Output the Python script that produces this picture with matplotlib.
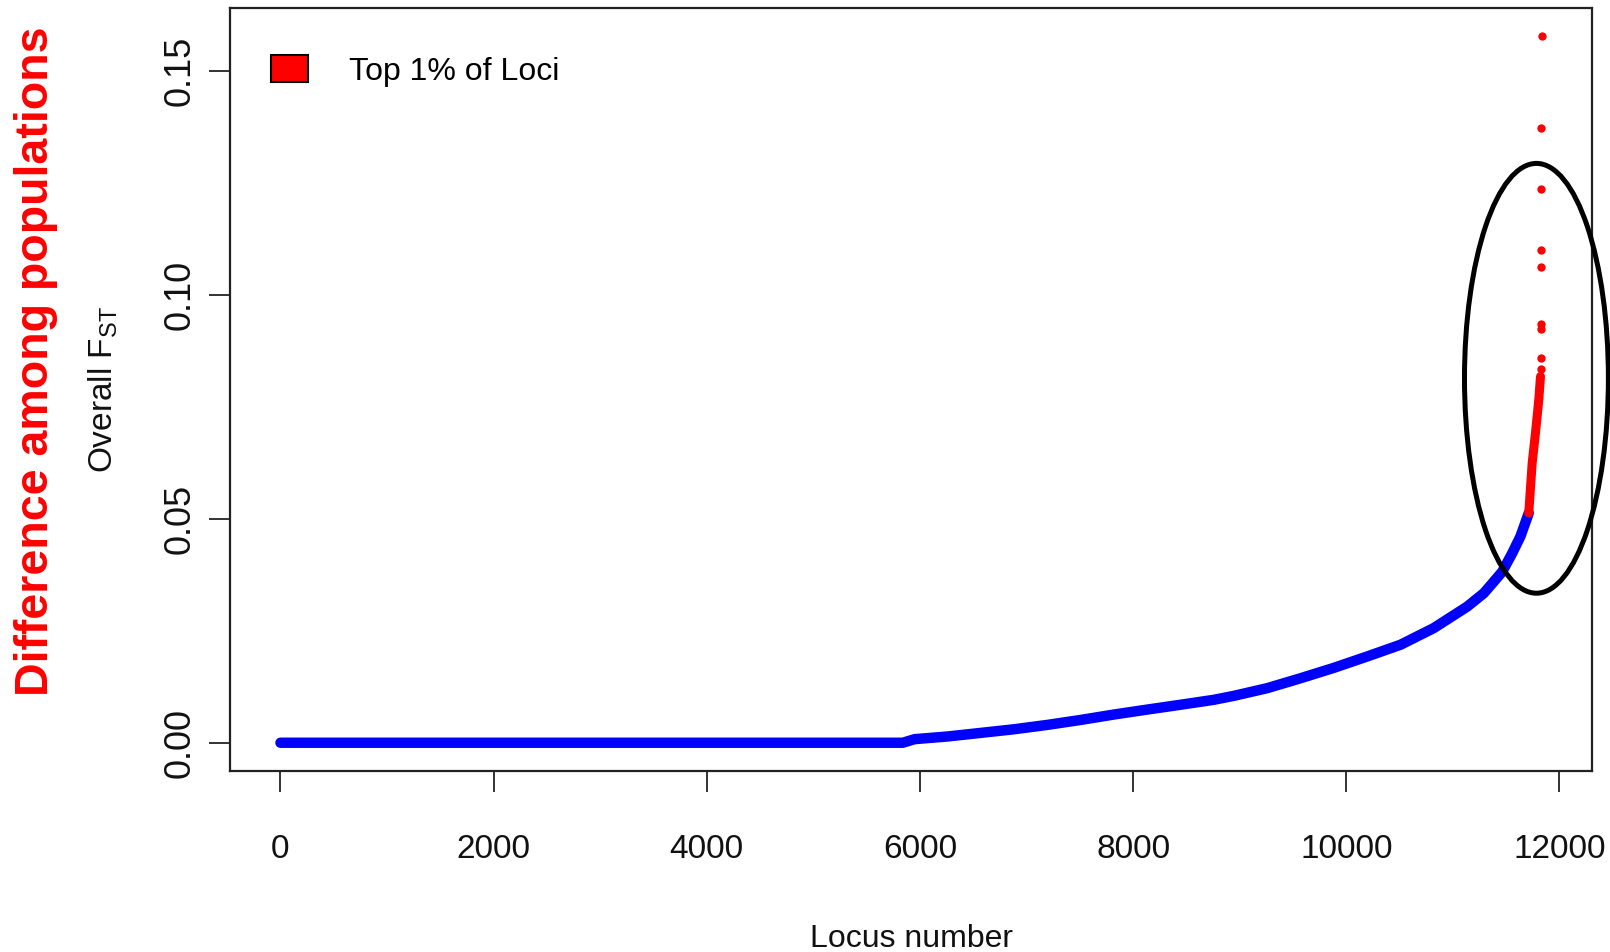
import matplotlib
matplotlib.use("Agg")
import matplotlib.pyplot as plt
from matplotlib.patches import Ellipse, Patch

# Sorted overall Fst per locus (locus index, value)
blue_locus = [1, 5840, 5950, 6260, 6570, 6880, 7200, 7510, 7820, 8130, 8450,
              8760, 8950, 9260, 9570, 9880, 10200, 10510, 10820, 11134, 11290,
              11352, 11463, 11556, 11634, 11712]
blue_fst = [0.0, 0.0, 0.0008, 0.0014, 0.0022, 0.0030, 0.0040, 0.0051, 0.0063,
            0.0074, 0.0085, 0.0096, 0.0105, 0.0122, 0.0144, 0.0167, 0.0193,
            0.0219, 0.0256, 0.0304, 0.0334, 0.0351, 0.0382, 0.0423, 0.0461,
            0.0513]

# top 1% of loci: dense part, then the last few separated points
top_locus = [11712, 11744, 11775, 11806, 11822]
top_fst = [0.0513, 0.0625, 0.0692, 0.0766, 0.0818]
outlier_locus = [11824, 11825, 11826, 11827, 11828, 11829, 11830, 11831, 11832]
outlier_fst = [0.0835, 0.0860, 0.0925, 0.0935, 0.1062, 0.1100, 0.1236, 0.1372,
               0.1578]

x_ticks = [0, 2000, 4000, 6000, 8000, 10000, 12000]
y_ticks = [0.00, 0.05, 0.10, 0.15]

plt.rcParams["font.family"] = ["Liberation Sans", "DejaVu Sans"]
plt.rcParams["mathtext.default"] = "regular"

W, H = 1610, 952
fig = plt.figure(figsize=(W / 100, H / 100), dpi=100)
ax = fig.add_axes([230 / W, 1 - 771 / H, (1592 - 230) / W, (771 - 8) / H])

ax.plot(blue_locus, blue_fst, color="blue", linewidth=7.5, solid_capstyle="round",
        solid_joinstyle="round", zorder=2)
ax.plot(top_locus, top_fst, color="red", linewidth=6.5, solid_capstyle="round",
        solid_joinstyle="round", zorder=3)
ax.plot(outlier_locus, outlier_fst, "o", color="red", markersize=6,
        markeredgewidth=0, zorder=3)

n = outlier_locus[-1]
ymax = outlier_fst[-1]
ax.set_xlim(1 - 0.04 * (n - 1), n + 0.04 * (n - 1))
ax.set_ylim(-0.04 * ymax, ymax * 1.04)

ax.set_xticks(x_ticks)
ax.set_xticklabels([str(v) for v in x_ticks])
ax.set_yticks(y_ticks)
ax.set_yticklabels([f"{v:.2f}" for v in y_ticks], rotation=90, va="center")
ax.tick_params(axis="x", length=15, width=1.2, pad=30, labelsize=24, colors="#111111")
ax.tick_params(axis="y", length=15, width=1.2, pad=8, labelsize=26, colors="#111111")
for s in ax.spines.values():
    s.set_linewidth(1.6)
    s.set_color("#222222")

ax.set_xlabel("Locus number", fontsize=23, color="#111111", va="center")
ax.xaxis.set_label_coords(0.5, (771 - 939) / 763)
ax.set_ylabel("Overall F$_{ST}$", fontsize=24, color="#111111", va="center")
ax.yaxis.set_label_coords((103 - 230) / 1362, 0.5)

# highlight ellipse round the top loci
ell = Ellipse((11784, 0.0814), width=1350, height=0.096, fill=False,
              edgecolor="black", linewidth=3.6, clip_on=False, zorder=4)
ax.add_patch(ell)

ax.legend(handles=[Patch(facecolor="red", edgecolor="black", linewidth=1.5)],
          labels=["Top 1% of Loci"], loc="upper left", frameon=False,
          bbox_to_anchor=(0.03, 0.938), borderpad=0, borderaxespad=0,
          handlelength=1.16, handleheight=0.9, handletextpad=1.28, fontsize=23)

fig.text(36 / W, 1 - 361 / H, "Difference among populations", rotation=90,
         ha="center", va="center", color="red", fontsize=33.5, fontweight="bold")

fig.savefig("out.png", dpi=100)
